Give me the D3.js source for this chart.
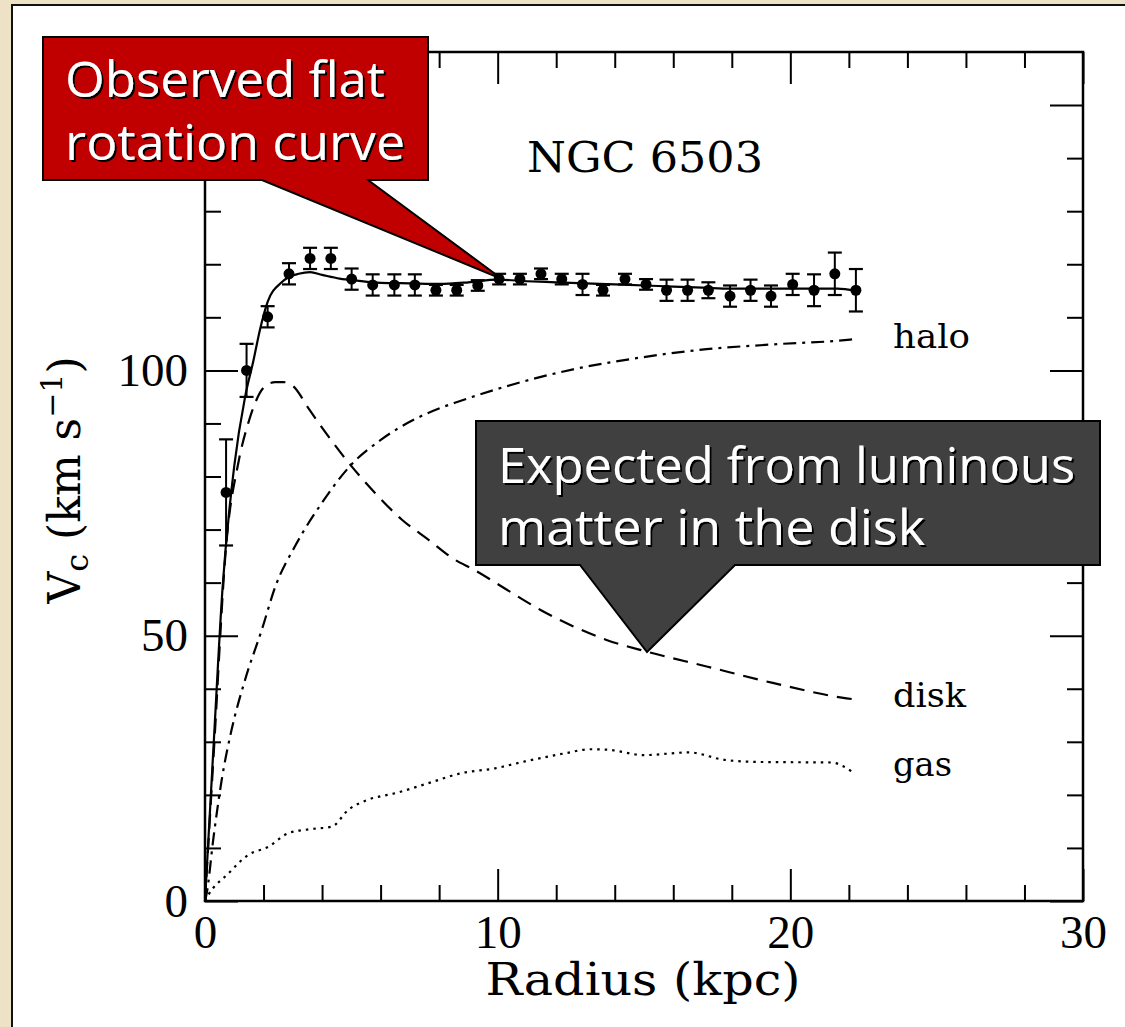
<!DOCTYPE html>
<html>
<head>
<meta charset="utf-8">
<script src="https://cdn.jsdelivr.net/npm/d3@7"></script>
<style>
  body { margin: 0; background: #eee2c6; }
  svg { display: block; }
</style>
</head>
<body>
<svg id="chart" width="1125" height="1027"></svg>
<script>
// Observed rotation curve of NGC 6503 (radius kpc, Vc km/s, error)
const obsRadius = [0.72, 1.42, 2.14, 2.87, 3.59, 4.30, 5.01, 5.73, 6.47, 7.17, 7.89, 8.60, 9.32, 10.05, 10.76, 11.48,
  12.19, 12.90, 13.60, 14.35, 15.07, 15.77, 16.49, 17.20, 17.94, 18.64, 19.34, 20.08, 20.81, 21.52, 22.24];
const obsVc = [77.0, 100.0, 110.1, 118.2, 121.1, 121.1, 117.2, 116.1, 116.1, 116.1, 115.1, 115.1, 116.0, 117.2, 117.2, 118.2,
  117.2, 116.2, 115.1, 117.2, 116.2, 115.1, 115.1, 115.1, 114.0, 115.1, 114.0, 116.2, 115.1, 118.2, 115.1];
const obsErr = [10, 5, 2, 2, 2, 2, 2, 2, 2, 2, 1, 1, 1, 1, 1, 1, 1, 2, 1, 1, 1, 2, 2, 1.5, 2, 2, 2, 2, 3, 4, 4];

// model components: [radius, Vc]
const totalFit = [[0, 0], [0.3, 30], [0.6, 59], [1.0, 82], [1.37, 95], [1.65, 101.7], [1.88, 107.7], [2.14, 112.9],
  [2.6, 116.5], [2.87, 117.6], [3.2, 118.2], [3.59, 118.5], [4.0, 118.0], [4.6, 117.3], [5.2, 116.9], [6, 116.5],
  [7, 116.4], [8, 116.3], [9, 116.6], [10, 117.1], [11, 116.8], [12, 116.6], [13, 116.4], [14, 116.2], [15, 116.0],
  [16, 115.8], [17, 115.6], [18, 115.4], [19, 115.4], [20, 115.4], [21, 115.4], [21.6, 115.4], [22.24, 115.0]];
const diskCurve = [[0, 0], [0.3, 28], [0.72, 66.8], [1.14, 82.6], [1.48, 90.1], [2.05, 97], [2.4, 97.8], [2.67, 97.8],
  [3.02, 97], [3.53, 92.9], [4.21, 87.6], [5.01, 81.9], [5.81, 76.9], [6.72, 71.9], [7.63, 68.1], [8.54, 64.3],
  [9.17, 62.5], [10.3, 58.7], [11.45, 54.9], [12.57, 51.8], [13.72, 49.2], [15.09, 47.0], [17.14, 44.2],
  [19.4, 41.1], [21.92, 38.2], [22.2, 38.0]];
const haloCurve = [[0, 0], [0.06, 1.5], [0.28, 11.5], [0.57, 22.8], [0.91, 32.3], [1.37, 41.7], [1.94, 51.1],
  [2.42, 59.5], [3.07, 66.8], [3.99, 75], [5.01, 82.3], [6.03, 87], [7.17, 90.8], [8.03, 92.9], [8.54, 93.9],
  [10.3, 97], [12.58, 100.2], [14.86, 102.4], [17.14, 104.0], [19.42, 104.9], [22.04, 105.8], [22.2, 105.9]];
const gasCurve = [[0, 0], [0.11, 1.1], [0.8, 5.2], [1.48, 8.7], [2.16, 10.2], [2.85, 12.8], [3.53, 13.5],
  [4.33, 14.0], [4.9, 17.2], [5.58, 19.1], [6.49, 20.3], [7.63, 22.2], [8.77, 24.1], [9.91, 25.0], [10.93, 26.3],
  [12.27, 27.8], [13.18, 28.6], [13.78, 28.5], [15.0, 27.5], [16.54, 28.0], [17.75, 26.6], [18.96, 26.2],
  [21.4, 26.1], [22.1, 24.4]];

const xMajor = [0, 10, 20, 30];
const xMinor = [2, 4, 6, 8, 12, 14, 16, 18, 22, 24, 26, 28];
const yMajor = [0, 50, 100, 150];
const yMinor = [10, 20, 30, 40, 60, 70, 80, 90, 110, 120, 130, 140];

const digits = "'Liberation Serif', 'Times New Roman', serif";
const serif = "'DejaVu Serif', serif";
const sans = "'Open Sans', 'Noto Sans', sans-serif";

const svg = d3.select('#chart');

// text shadow used on the callouts
const shadow = svg.append('defs').append('filter')
  .attr('id', 'shadow')
  .attr('x', '-10%').attr('y', '-20%')
  .attr('width', '130%').attr('height', '150%');
shadow.append('feDropShadow')
  .attr('dx', 2).attr('dy', 2)
  .attr('stdDeviation', 0.4)
  .attr('flood-color', '#000')
  .attr('flood-opacity', 1);

// slide panel
svg.append('rect')
  .attr('x', 12).attr('y', 5)
  .attr('width', 1130).attr('height', 1040)
  .attr('fill', '#fff')
  .attr('stroke', '#111')
  .attr('stroke-width', 2);

const x = d3.scaleLinear().domain([0, 30]).range([205, 1083]);
const y = d3.scaleLinear().domain([0, 160]).range([901, 52]);

const plot = svg.append('g');

// Axes: major + minor ticks, pointing inward on all four sides
function styleAxis(g) {
  g.select('.domain').remove();
  g.selectAll('.tick line').attr('stroke', '#000').attr('stroke-width', 2);
  g.selectAll('.tick text')
    .attr('font-family', digits)
    .attr('font-size', 47)
    .attr('fill', '#000');
}

plot.append('g').attr('transform', `translate(0,${y(0)})`)
  .call(d3.axisBottom(x).tickValues(xMajor).tickSizeInner(-32).tickSizeOuter(0).tickPadding(14))
  .call(styleAxis);
plot.append('g').attr('transform', `translate(0,${y(0)})`)
  .call(d3.axisBottom(x).tickValues(xMinor).tickSizeInner(-16).tickSizeOuter(0).tickFormat(''))
  .call(styleAxis);
plot.append('g').attr('transform', `translate(0,${y(160)})`)
  .call(d3.axisTop(x).tickValues(xMajor).tickSizeInner(-32).tickSizeOuter(0).tickFormat(''))
  .call(styleAxis);
plot.append('g').attr('transform', `translate(0,${y(160)})`)
  .call(d3.axisTop(x).tickValues(xMinor).tickSizeInner(-16).tickSizeOuter(0).tickFormat(''))
  .call(styleAxis);
plot.append('g').attr('transform', `translate(${x(0)},0)`)
  .call(d3.axisLeft(y).tickValues(yMajor.slice(0, 3)).tickSizeInner(-33).tickSizeOuter(0).tickPadding(17))
  .call(styleAxis);
plot.append('g').attr('transform', `translate(${x(0)},0)`)
  .call(d3.axisLeft(y).tickValues(yMajor.slice(3)).tickSizeInner(-33).tickSizeOuter(0).tickFormat(''))
  .call(styleAxis);
plot.append('g').attr('transform', `translate(${x(0)},0)`)
  .call(d3.axisLeft(y).tickValues(yMinor).tickSizeInner(-16).tickSizeOuter(0).tickFormat(''))
  .call(styleAxis);
plot.append('g').attr('transform', `translate(${x(30)},0)`)
  .call(d3.axisRight(y).tickValues(yMajor).tickSizeInner(-33).tickSizeOuter(0).tickFormat(''))
  .call(styleAxis);
plot.append('g').attr('transform', `translate(${x(30)},0)`)
  .call(d3.axisRight(y).tickValues(yMinor).tickSizeInner(-16).tickSizeOuter(0).tickFormat(''))
  .call(styleAxis);

// frame
plot.append('rect')
  .attr('x', x(0)).attr('y', y(160))
  .attr('width', x(30) - x(0)).attr('height', y(0) - y(160))
  .attr('fill', 'none')
  .attr('stroke', '#000')
  .attr('stroke-width', 2.5);

// model curves
const line = d3.line().x(d => x(d[0])).y(d => y(d[1])).curve(d3.curveMonotoneX);

const curves = [
  { data: gasCurve, dash: '2.5,5' },
  { data: haloCurve, dash: '13,6,3,6' },
  { data: diskCurve, dash: '15,9' },
  { data: totalFit, dash: null }
];
curves.forEach(c => {
  plot.append('path')
    .datum(c.data)
    .attr('d', line)
    .attr('fill', 'none')
    .attr('stroke', '#000')
    .attr('stroke-width', 2.2)
    .attr('stroke-dasharray', c.dash);
});

// observed points with error bars
const obs = obsRadius.map((r, i) => ({ r, v: obsVc[i], e: obsErr[i] }));
const pts = plot.append('g').selectAll('g').data(obs).join('g');
pts.append('line')
  .attr('x1', d => x(d.r)).attr('x2', d => x(d.r))
  .attr('y1', d => y(d.v - d.e)).attr('y2', d => y(d.v + d.e))
  .attr('stroke', '#000').attr('stroke-width', 2);
[-1, 1].forEach(s => {
  pts.append('line')
    .attr('x1', d => x(d.r) - 7).attr('x2', d => x(d.r) + 7)
    .attr('y1', d => y(d.v + s * d.e)).attr('y2', d => y(d.v + s * d.e))
    .attr('stroke', '#000').attr('stroke-width', 2.2);
});
pts.append('circle')
  .attr('cx', d => x(d.r)).attr('cy', d => y(d.v))
  .attr('r', 5.5)
  .attr('fill', '#000');

// component labels
const compLabels = [
  { text: 'halo', v: 104.3, len: 77 },
  { text: 'disk', v: 36.6, len: 73 },
  { text: 'gas', v: 23.6, len: 59 }
];
plot.selectAll('.comp').data(compLabels).join('text')
  .attr('class', 'comp')
  .attr('x', 893)
  .attr('y', d => y(d.v))
  .attr('font-family', serif)
  .attr('font-size', 33)
  .attr('textLength', d => d.len)
  .attr('lengthAdjust', 'spacingAndGlyphs')
  .text(d => d.text);

// galaxy name
plot.append('text')
  .attr('x', 527).attr('y', 172)
  .attr('font-family', serif)
  .attr('font-size', 43)
  .attr('textLength', 236)
  .attr('lengthAdjust', 'spacingAndGlyphs')
  .text('NGC 6503');

// axis titles
plot.append('text')
  .attr('x', 643).attr('y', 995)
  .attr('text-anchor', 'middle')
  .attr('font-family', serif)
  .attr('font-size', 45)
  .attr('textLength', 315)
  .attr('lengthAdjust', 'spacingAndGlyphs')
  .text('Radius (kpc)');

const yTitle = plot.append('text')
  .attr('transform', 'translate(80,480) rotate(-90)')
  .attr('text-anchor', 'middle')
  .attr('font-family', serif)
  .attr('font-size', 44);
yTitle.append('tspan').text('V');
yTitle.append('tspan').attr('font-size', 32).attr('dy', 8).text('c');
yTitle.append('tspan').attr('dy', -8).text(' (km s');
yTitle.append('tspan').attr('font-size', 30).attr('dy', -18).text('−1');
yTitle.append('tspan').attr('dy', 18).text(')');

// callouts
function callout(pathD, fill, lines, tx, baselines, lens) {
  const g = svg.append('g');
  g.append('path')
    .attr('d', pathD)
    .attr('fill', fill)
    .attr('stroke', '#000')
    .attr('stroke-width', 2)
    .attr('stroke-linejoin', 'miter');
  g.selectAll('text').data(lines).join('text')
    .attr('x', tx)
    .attr('y', (d, i) => baselines[i])
    .attr('font-family', sans)
    .attr('font-size', 50)
    .attr('fill', '#fff')
    .attr('filter', 'url(#shadow)')
    .attr('textLength', (d, i) => lens[i])
    .attr('lengthAdjust', 'spacingAndGlyphs')
    .text(d => d);
}

callout('M43,37 H428 V180 H368 L502,279 L262,180 H43 Z', '#c00000',
  ['Observed flat', 'rotation curve'], 65, [97, 160], [320, 340]);
callout('M476,421 H1100 V565 H735 L647,652 L580,565 H476 Z', '#404040',
  ['Expected from luminous', 'matter in the disk'], 498, [483, 545], [577, 427]);
</script>
</body>
</html>
